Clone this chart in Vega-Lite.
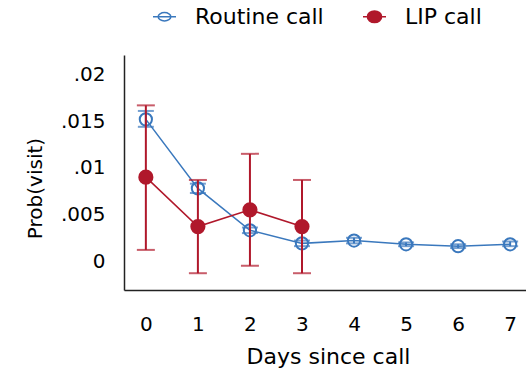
{
  "$schema": "https://vega.github.io/schema/vega-lite/v6.json",
  "autosize": "none",
  "padding": {"left": 124, "top": 55, "right": 0, "bottom": 88},
  "width": 408,
  "height": 235,
  "background": "white",
  "config": {
    "view": {"stroke": null},
    "font": "DejaVu Sans",
    "axis": {"labelFont": "DejaVu Sans", "titleFont": "DejaVu Sans", "labelColor": "black", "titleColor": "black", "titleFontWeight": "normal", "domainColor": "#222", "domainWidth": 1.5, "ticks": false, "grid": false}
  },
  "data": {
    "values": [
      {"group": "Routine call", "day": 0, "p": 0.0152, "lo": 0.0144, "hi": 0.0161},
      {"group": "Routine call", "day": 1, "p": 0.0078, "lo": 0.0073, "hi": 0.0083},
      {"group": "Routine call", "day": 2, "p": 0.0033, "lo": 0.0030, "hi": 0.0036},
      {"group": "Routine call", "day": 3, "p": 0.0019, "lo": 0.0016, "hi": 0.0022},
      {"group": "Routine call", "day": 4, "p": 0.0022, "lo": 0.0019, "hi": 0.0025},
      {"group": "Routine call", "day": 5, "p": 0.0018, "lo": 0.0016, "hi": 0.0020},
      {"group": "Routine call", "day": 6, "p": 0.0016, "lo": 0.0014, "hi": 0.0018},
      {"group": "Routine call", "day": 7, "p": 0.0018, "lo": 0.0016, "hi": 0.0021},
      {"group": "LIP call", "day": 0, "p": 0.0090, "lo": 0.0012, "hi": 0.0167},
      {"group": "LIP call", "day": 1, "p": 0.0037, "lo": -0.0013, "hi": 0.0087},
      {"group": "LIP call", "day": 2, "p": 0.0055, "lo": -0.0005, "hi": 0.0115},
      {"group": "LIP call", "day": 3, "p": 0.0037, "lo": -0.0013, "hi": 0.0087}
    ]
  },
  "encoding": {
    "x": {"field": "day", "type": "quantitative", "scale": {"domain": [-0.42, 7.42], "nice": false, "zero": false},
      "axis": {"values": [0, 1, 2, 3, 4, 5, 6, 7], "title": "Days since call", "labelFontSize": 20, "titleFontSize": 22, "labelPadding": 24, "titlePadding": 12}},
    "y": {"field": "p", "type": "quantitative", "scale": {"domain": [-0.0031, 0.0221], "nice": false, "zero": false},
      "axis": {"values": [0, 0.005, 0.01, 0.015, 0.02], "labelExpr": "datum.value === 0 ? '0' : replace(toString(datum.value), '0.', '.')", "title": "Prob(visit)", "labelFontSize": 20, "titleFontSize": 20, "labelPadding": 19, "titleX": -89, "titleY": 133, "titleAngle": -90, "titleBaseline": "middle", "titleAlign": "center"}}
  },
  "layer": [
    {
      "transform": [{"filter": "datum.group === 'Routine call'"}],
      "mark": {"type": "line", "strokeWidth": 1.5},
      "encoding": {
        "color": {"field": "group", "type": "nominal", "sort": ["Routine call", "LIP call"],
          "scale": {"domain": ["Routine call", "LIP call"], "range": ["#3a78bd", "#b0182b"]},
          "legend": {
            "orient": "none", "legendX": 28, "legendY": -51, "direction": "horizontal", "title": null,
            "labelFont": "DejaVu Sans", "labelFontSize": 22, "labelColor": "black", "labelOffset": 18, "columnPadding": 36, "symbolSize": 529,
            "encode": {"symbols": {"update": {
              "shape": {"signal": "datum.value === 'Routine call' ? 'M-1,0L1,0M-0.55,0A0.55,0.36 0 1 0 0.55,0A0.55,0.36 0 1 0 -0.55,0' : 'M-1,0L1,0M-0.62,0A0.62,0.5 0 1 0 0.62,0A0.62,0.5 0 1 0 -0.62,0'"},
              "fill": {"signal": "datum.value === 'Routine call' ? 'transparent' : '#b0182b'"},
              "size": {"value": 529},
              "strokeWidth": {"value": 1.5}
            }}}
          }}
      }
    },
    {
      "transform": [{"filter": "datum.group === 'Routine call'"}],
      "mark": {"type": "point", "shape": "circle", "filled": false, "size": 150, "strokeWidth": 2, "color": "#3a78bd", "opacity": 1}
    },
    {
      "transform": [{"filter": "datum.group === 'Routine call'"}],
      "mark": {"type": "rule", "strokeWidth": 2, "color": "#3a78bd"},
      "encoding": {"y": {"field": "lo", "type": "quantitative"}, "y2": {"field": "hi"}}
    },
    {
      "transform": [{"filter": "datum.group === 'Routine call'"}],
      "mark": {"type": "tick", "orient": "horizontal", "size": 16, "thickness": 2, "color": "#3a78bd"},
      "encoding": {"y": {"field": "lo", "type": "quantitative"}}
    },
    {
      "transform": [{"filter": "datum.group === 'Routine call'"}],
      "mark": {"type": "tick", "orient": "horizontal", "size": 16, "thickness": 2, "color": "#3a78bd"},
      "encoding": {"y": {"field": "hi", "type": "quantitative"}}
    },
    {
      "transform": [{"filter": "datum.group === 'LIP call'"}],
      "mark": {"type": "line", "strokeWidth": 1.5, "color": "#b0182b"}
    },
    {
      "transform": [{"filter": "datum.group === 'LIP call'"}],
      "mark": {"type": "rule", "strokeWidth": 2, "color": "#b0182b"},
      "encoding": {"y": {"field": "lo", "type": "quantitative"}, "y2": {"field": "hi"}}
    },
    {
      "transform": [{"filter": "datum.group === 'LIP call'"}],
      "mark": {"type": "tick", "orient": "horizontal", "size": 18, "thickness": 2, "color": "#b0182b"},
      "encoding": {"y": {"field": "lo", "type": "quantitative"}}
    },
    {
      "transform": [{"filter": "datum.group === 'LIP call'"}],
      "mark": {"type": "tick", "orient": "horizontal", "size": 18, "thickness": 2, "color": "#b0182b"},
      "encoding": {"y": {"field": "hi", "type": "quantitative"}}
    },
    {
      "transform": [{"filter": "datum.group === 'LIP call'"}],
      "mark": {"type": "point", "shape": "circle", "filled": true, "size": 230, "color": "#b0182b", "opacity": 1}
    }
  ]
}
